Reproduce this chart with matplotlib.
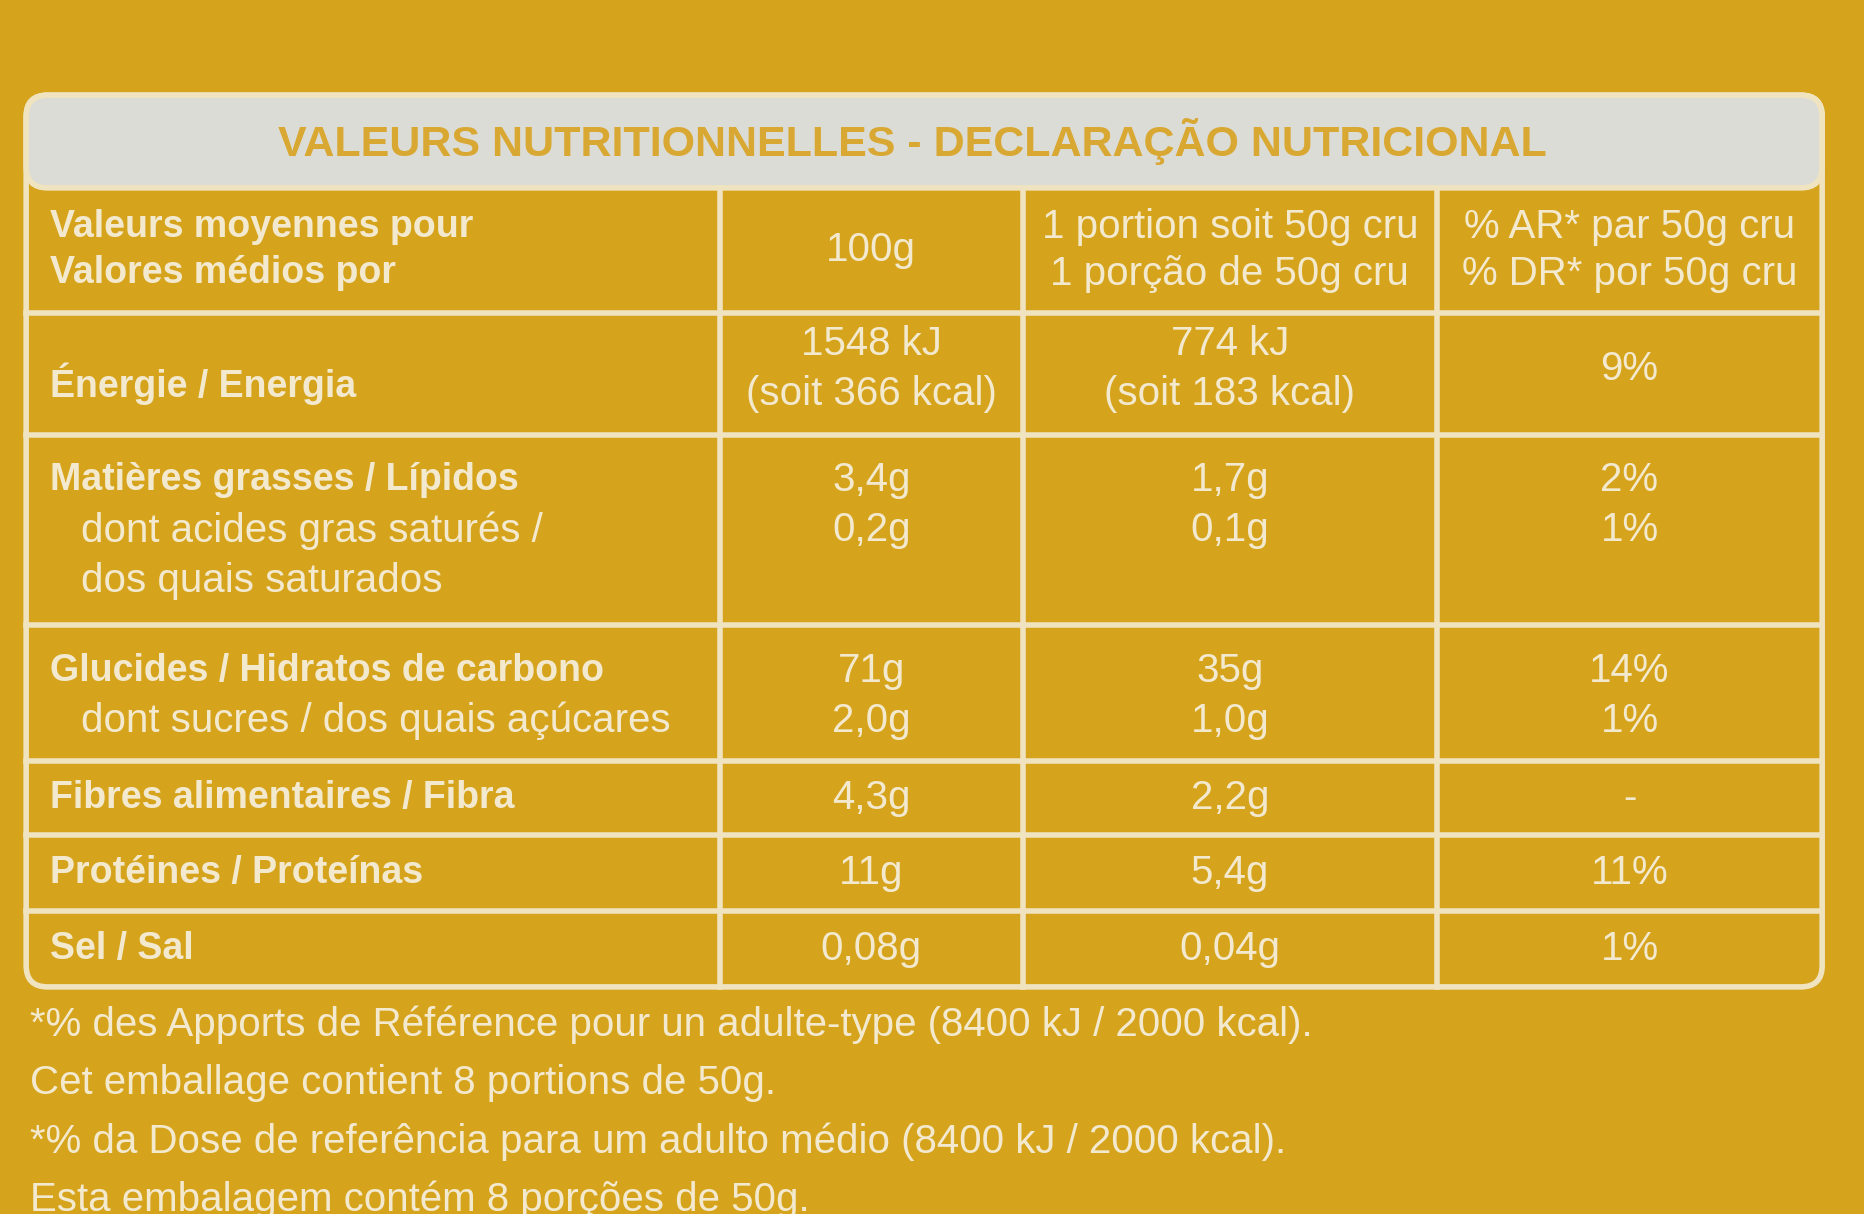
import matplotlib.pyplot as plt
from matplotlib.patches import FancyBboxPatch, Rectangle

plt.rcParams['font.family'] = ['Liberation Sans Narrow', 'Liberation Sans', 'DejaVu Sans']

BG = '#d6a41c'
LINE = '#efe3c0'
TXT = '#f3e9cf'
HEAD_BG = '#dcdcd6'
HEAD_TXT = '#d9a832'

title = 'VALEURS NUTRITIONNELLES - DECLARAÇÃO NUTRICIONAL'
col_heads = ['Valeurs moyennes pour\nValores médios por', '100g',
             '1 portion soit 50g cru\n1 porção de 50g cru',
             '% AR* par 50g cru\n% DR* por 50g cru']
row_labels = ['Énergie / Energia', 'Matières grasses / Lípidos', 'Glucides / Hidratos de carbono',
              'Fibres alimentaires / Fibra', 'Protéines / Proteínas', 'Sel / Sal']
row_sub = ['', 'dont acides gras saturés /\ndos quais saturados', 'dont sucres / dos quais açúcares',
           '', '', '']
per_100g = ['1548 kJ\n(soit 366 kcal)', '3,4g\n0,2g', '71g\n2,0g', '4,3g', '11g', '0,08g']
per_portion = ['774 kJ\n(soit 183 kcal)', '1,7g\n0,1g', '35g\n1,0g', '2,2g', '5,4g', '0,04g']
pct_ar = ['9%', '2%\n1%', '14%\n1%', '-', '11%', '1%']
footer = ['*% des Apports de Référence pour un adulte-type (8400 kJ / 2000 kcal).',
          'Cet emballage contient 8 portions de 50g.',
          '*% da Dose de referência para um adulto médio (8400 kJ / 2000 kcal).',
          'Esta embalagem contém 8 porções de 50g.']

fig = plt.figure(figsize=(18.65, 12.14), dpi=100)
fig.patch.set_facecolor(BG)
ax = fig.add_axes([0, 0, 1, 1])
ax.set_xlim(0, 1568)
ax.set_ylim(1021, 0)
ax.axis('off')
ax.add_patch(Rectangle((0, 0), 1568, 1021, color=BG, zorder=0))

x0, x1 = 22, 1532
cols = [x0, 605, 860, 1208, x1]
rows = [158, 263, 366, 526, 640, 702, 766, 830]
lw = 4

# cadre + bandeau du titre
ax.add_patch(FancyBboxPatch((x0, 80), x1 - x0, 750, boxstyle='round,pad=0,rounding_size=18',
                            fc='none', ec=LINE, lw=lw, zorder=3))
ax.add_patch(FancyBboxPatch((x0, 80), x1 - x0, 78, boxstyle='round,pad=0,rounding_size=18',
                            fc=HEAD_BG, ec=LINE, lw=lw, zorder=2))
ax.text((x0 + x1) / 2 - 10, 119, title, ha='center', va='center', color=HEAD_TXT,
        fontsize=31, fontweight='bold', zorder=4)

for y in rows[1:-1]:
    ax.plot([x0, x1], [y, y], color=LINE, lw=lw, zorder=3)
for x in cols[1:-1]:
    ax.plot([x, x], [rows[0], rows[-1]], color=LINE, lw=lw, zorder=3)

fs = 29
fsb = 27
centers = [(cols[i] + cols[i + 1]) / 2 for i in range(4)]
ymid = (rows[0] + rows[1]) / 2
ax.text(42, ymid, col_heads[0], ha='left', va='center', color=TXT, fontsize=fsb,
        fontweight='bold', linespacing=1.35)
for i in range(1, 4):
    ax.text(centers[i], ymid, col_heads[i], ha='center', va='center', color=TXT,
            fontsize=fs, linespacing=1.3)

for r in range(6):
    top, bot = rows[r + 1], rows[r + 2]
    mid = (top + bot) / 2
    if r == 0:
        ylab, ydata, va = mid + 8, mid - 4, 'center'
    elif '\n' in per_100g[r]:
        ylab, ydata, va = top + 38, top + 22, 'top'
    else:
        ylab, ydata, va = mid, mid, 'center'
    ax.text(42, ylab, row_labels[r], ha='left', va='center', color=TXT, fontsize=fsb,
            fontweight='bold')
    if row_sub[r]:
        ax.text(68, ylab + 26, row_sub[r], ha='left', va='top', color=TXT, fontsize=fs,
                linespacing=1.4)
    for i, vals in enumerate([per_100g, per_portion, pct_ar], start=1):
        ax.text(centers[i], ydata, vals[r], ha='center', va=va,
                color=TXT, fontsize=fs, linespacing=1.4)

for k, line in enumerate(footer):
    ax.text(25, 862 + k * 49, line, ha='left', va='center', color=TXT, fontsize=fs)

fig.savefig('out.png', dpi=100, facecolor=BG)
